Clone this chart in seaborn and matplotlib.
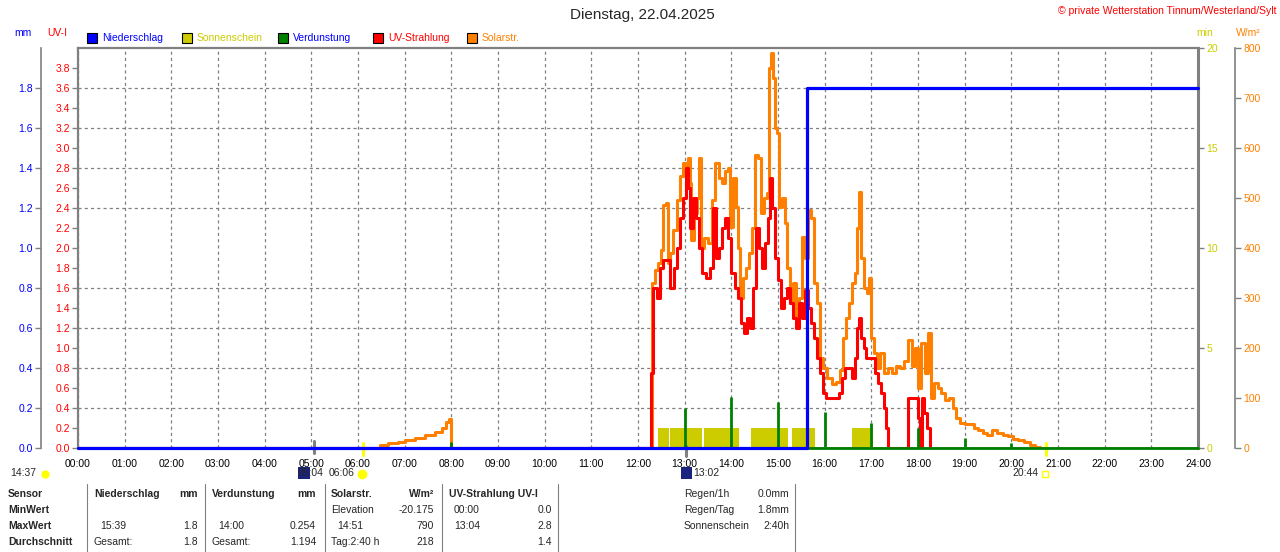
import numpy as np
import matplotlib
matplotlib.use("Agg")
import matplotlib.pyplot as plt
from matplotlib.patches import Rectangle
import seaborn as sns

TITLE = "Dienstag, 22.04.2025"
COPYRIGHT = "© private Wetterstation Tinnum/Westerland/Sylt"

# Solarstrahlung W/m²
solar_time = [
    "00:00", "06:28", "06:39", "06:51", "07:00", "07:13", "07:26", "07:39", "07:48", "07:53",
    "07:57", "08:00", "12:18", "12:22", "12:26", "12:30", "12:32", "12:36", "12:39", "12:41",
    "12:45", "12:50", "12:54", "12:58", "13:02", "13:04", "13:07", "13:08", "13:12", "13:16",
    "13:18", "13:21", "13:25", "13:30", "13:35", "13:39", "13:44", "13:48", "13:52", "13:56",
    "13:58", "14:02", "14:06", "14:09", "14:11", "14:15", "14:19", "14:23", "14:27", "14:30",
    "14:34", "14:38", "14:42", "14:46", "14:48", "14:51", "14:54", "14:56", "14:59", "15:01",
    "15:05", "15:09", "15:12", "15:15", "15:19", "15:23", "15:27", "15:31", "15:35", "15:39",
    "15:42", "15:46", "15:50", "15:54", "15:58", "16:03", "16:09", "16:15", "16:20", "16:24",
    "16:27", "16:31", "16:35", "16:39", "16:42", "16:44", "16:47", "16:51", "16:54", "16:57",
    "17:00", "17:03", "17:07", "17:11", "17:16", "17:21", "17:27", "17:32", "17:37", "17:42",
    "17:47", "17:52", "17:56", "18:00", "18:04", "18:09", "18:13", "18:17", "18:21", "18:26",
    "18:30", "18:35", "18:40", "18:45", "18:49", "18:54", "19:00", "19:07", "19:12", "19:17",
    "19:24", "19:29", "19:35", "19:42", "19:49", "19:56", "20:02", "20:09", "20:16", "20:24",
    "20:30", "20:37",
]
solar_wm2 = [
    0, 6, 10, 12, 16, 20, 26, 32, 40, 52,
    58, 0, 330, 356, 370, 396, 486, 490, 370, 390,
    436, 496, 545, 570, 560, 580, 530, 416, 470, 500,
    580, 400, 420, 410, 496, 570, 540, 530, 555, 560,
    442, 540, 482, 400, 300, 340, 360, 390, 440, 586,
    580, 470, 500, 510, 760, 790, 740, 640, 630, 482,
    500, 450, 360, 290, 330, 260, 300, 422, 380, 476,
    460, 330, 290, 180, 160, 140, 128, 132, 156, 220,
    260, 290, 330, 350, 440, 512, 380, 320, 310, 340,
    220, 190, 160, 190, 150, 160, 150, 165, 160, 175,
    216, 165, 200, 120, 210, 150, 230, 100, 130, 120,
    110, 96, 100, 80, 60, 50, 48, 48, 40, 36,
    30, 26, 36, 30, 26, 24, 18, 16, 12, 6,
    2, 0,
]

# UV-Strahlung UV-I
uv_time = [
    "00:00", "12:17", "12:19", "12:24", "12:28", "12:32", "12:37", "12:41", "12:46", "12:50",
    "12:54", "12:58", "13:02", "13:04", "13:07", "13:11", "13:15", "13:18", "13:22", "13:27",
    "13:33", "13:36", "13:40", "13:44", "13:48", "13:52", "13:56", "14:00", "14:05", "14:09",
    "14:12", "14:16", "14:20", "14:24", "14:28", "14:32", "14:36", "14:39", "14:43", "14:47",
    "14:50", "14:52", "14:56", "15:00", "15:04", "15:08", "15:12", "15:15", "15:19", "15:23",
    "15:27", "15:31", "15:35", "15:39", "15:42", "15:46", "15:50", "15:54", "15:58", "16:02",
    "16:15", "16:18", "16:22", "16:26", "16:35", "16:39", "16:42", "16:44", "16:47", "16:51",
    "16:53", "17:01", "17:05", "17:09", "17:12", "17:16", "17:19", "17:21", "17:47", "18:00",
    "18:03", "18:05", "18:08", "18:12", "18:15",
]
uv_index = [
    0.0, 0.75, 1.6, 1.5, 1.8, 1.88, 1.88, 1.6, 1.8, 2.0,
    2.3, 2.5, 2.8, 2.6, 2.2, 2.5, 2.3, 2.0, 1.75, 1.7,
    1.8, 2.4, 1.9, 2.0, 2.2, 2.3, 2.1, 1.75, 1.6, 1.5,
    1.25, 1.15, 1.3, 1.2, 1.6, 2.2, 2.0, 1.8, 2.05, 2.3,
    2.7, 2.4, 1.9, 1.68, 1.4, 1.5, 1.6, 1.45, 1.3, 1.2,
    1.45, 1.3, 1.58, 1.4, 1.25, 1.1, 0.9, 0.75, 0.55, 0.5,
    0.5, 0.55, 0.7, 0.8, 0.7, 0.9, 1.2, 1.3, 1.1, 1.0,
    0.9, 0.9, 0.75, 0.65, 0.55, 0.4, 0.2, 0.0, 0.5, 0.3,
    0.0, 0.5, 0.35, 0.2, 0.0,
]

# Niederschlag (Tagessumme) mm
rain_time = ["00:00", "15:37", "24:00"]
rain_mm = [0.0, 1.8, 1.8]

# Verdunstung mm
evap_time = ["08:00", "13:00", "14:00", "15:00", "16:00", "17:00", "18:00", "19:00", "20:00"]
evap_mm = [0.03, 0.2, 0.254, 0.23, 0.18, 0.125, 0.1, 0.05, 0.025]

# Sonnenschein min
sun_start = ["12:26", "12:41", "13:25", "14:25", "15:18", "16:35", "18:02"]
sun_end = ["12:40", "13:22", "14:10", "15:13", "15:48", "17:02", "18:04"]
sun_min = [1, 1, 1, 1, 1, 1, 1]

legend_labels = ["Niederschlag", "Sonnenschein", "Verdunstung", "UV-Strahlung", "Solarstr."]

BLUE = "#0000ff"
YELLOW = "#cccc00"
GREEN = "#008000"
RED = "#ff0000"
ORANGE = "#ff8000"
GREY = "#808080"


def hours(times):
    return np.array([int(t[:2]) + int(t[3:]) / 60 for t in times])


W, H = 1280, 552


def fx(px):
    return px / W


def fy(py):
    return 1 - py / H


sns.set_style("white")
plt.rcParams["font.family"] = ["Liberation Sans", "DejaVu Sans"]
plt.rcParams["font.size"] = 7.5

fig = plt.figure(figsize=(12.8, 5.52), dpi=100)
rect = [fx(78), fy(448), (1198 - 78) / W, 400 / H]

# host axis: sunshine minutes + grid
ax = fig.add_axes(rect)
ax.set_xlim(0, 24)
ax.set_ylim(0, 20)
ax.set_axisbelow(True)
ax.set_xticks(range(25))
ax.set_xticklabels(["%02d:00" % h for h in range(25)])
ax.tick_params(axis="x", length=0, pad=8, labelsize=7.5, colors="black")
ax.set_yticks([0, 5, 10, 15, 20])
ax.set_yticks(np.arange(2, 20, 2), minor=True)
grid_kw = dict(color=GREY, linestyle=(0, (2.5, 2.5)), linewidth=0.9)
ax.xaxis.grid(True, **grid_kw)
ax.yaxis.grid(True, which="minor", **grid_kw)
ax.yaxis.grid(False, which="major")
for side, lw in [("top", 1.6), ("left", 1.6), ("right", 2.2), ("bottom", 1.2)]:
    ax.spines[side].set_color(GREY)
    ax.spines[side].set_linewidth(lw)

s0, s1 = hours(sun_start), hours(sun_end)
ax.bar(s0, sun_min, width=s1 - s0, align="edge", color=YELLOW, linewidth=0, zorder=2)

# solar radiation
ax_w = ax.twinx()
ax_w.set_ylim(0, 800)
for side in ["top", "left", "bottom"]:
    ax_w.spines[side].set_visible(False)
ax_w.spines["right"].set_position(("outward", 37 * 0.72))
ax_w.spines["right"].set_color(GREY)
ax_w.spines["right"].set_linewidth(1.2)
ax_w.set_yticks(range(0, 801, 100))
ax_w.tick_params(axis="y", length=4, width=1, color=GREY, labelcolor=ORANGE, pad=2, labelsize=7.5)
sns.lineplot(x=hours(solar_time), y=solar_wm2, ax=ax_w, color=ORANGE, linewidth=2.2,
             drawstyle="steps-post", estimator=None, sort=False)
ax_w.set_ylabel("")

# UV index
ax_uv = ax.twinx()
ax_uv.set_ylim(0, 4)
for side in ax_uv.spines:
    ax_uv.spines[side].set_visible(False)
ax_uv.yaxis.tick_left()
ax_uv.set_yticks(np.round(np.arange(0, 3.81, 0.2), 1))
ax_uv.set_yticklabels(["%.1f" % v for v in np.arange(0, 3.81, 0.2)])
ax_uv.tick_params(axis="y", length=4, width=1, color=GREY, labelcolor=RED, pad=2, labelsize=7.5)
sns.lineplot(x=hours(uv_time), y=uv_index, ax=ax_uv, color=RED, linewidth=2.2,
             drawstyle="steps-post", estimator=None, sort=False)
ax_uv.set_ylabel("")

# precipitation + evaporation
ax_mm = ax.twinx()
ax_mm.set_ylim(0, 2)
for side in ["top", "right", "bottom"]:
    ax_mm.spines[side].set_visible(False)
ax_mm.yaxis.tick_left()
ax_mm.spines["left"].set_visible(True)
ax_mm.spines["left"].set_position(("outward", 37 * 0.72))
ax_mm.spines["left"].set_color(GREY)
ax_mm.spines["left"].set_linewidth(1.2)
ax_mm.set_yticks(np.round(np.arange(0, 1.81, 0.2), 1))
ax_mm.set_yticklabels(["%.1f" % v for v in np.arange(0, 1.81, 0.2)])
ax_mm.tick_params(axis="y", length=4, width=1, color=GREY, labelcolor=BLUE, pad=2, labelsize=7.5)
ax_mm.axhline(0, color=GREEN, linewidth=2, clip_on=False)
ax_mm.vlines(hours(evap_time), 0, evap_mm, color=GREEN, linewidth=2)
sns.lineplot(x=hours(rain_time), y=rain_mm, ax=ax_mm, color=BLUE, linewidth=2.3,
             drawstyle="steps-post", estimator=None, sort=False, clip_on=False)
ax_mm.set_ylabel("")

for a in (ax_w, ax_uv, ax_mm):
    a.tick_params(axis="x", bottom=False, labelbottom=False)

# twinx() moves the host ticks to the left, put the minute scale back on the right
ax.yaxis.tick_right()
ax.tick_params(axis="y", which="major", length=4, width=1, color=GREY, labelcolor=YELLOW,
               pad=2, labelsize=7.5)
ax.tick_params(axis="y", which="minor", length=0, left=False, right=False)

# header texts
fig.text(fx(642), fy(15), TITLE, ha="center", va="center", fontsize=11)
fig.text(fx(1277), fy(11), COPYRIGHT, ha="right", va="center", color=RED, fontsize=7.5)
fig.text(fx(23), fy(33), "mm", ha="center", va="center", color=BLUE)
fig.text(fx(57), fy(33), "UV-I", ha="center", va="center", color=RED)
fig.text(fx(1205), fy(33), "min", ha="center", va="center", color=YELLOW)
fig.text(fx(1248), fy(33), "W/m²", ha="center", va="center", color=ORANGE)

leg_colors = [BLUE, YELLOW, GREEN, RED, ORANGE]
leg_text_colors = [BLUE, YELLOW, BLUE, RED, ORANGE]
leg_x = [87, 182, 278, 373, 467]
for lx, lab, c, tc in zip(leg_x, legend_labels, leg_colors, leg_text_colors):
    fig.patches.append(Rectangle((fx(lx), fy(43)), 10 / W, 10 / H, transform=fig.transFigure,
                                 facecolor=c, edgecolor="black", linewidth=0.8))
    fig.text(fx(lx + 15), fy(38), lab, ha="left", va="center", color=tc)

# sun / moon marks below the axis
ax.plot([hours(["05:04"])[0]] * 2, [-0.25, 0.35], color=GREY, lw=2.2, clip_on=False)
ax.plot([hours(["06:06"])[0]] * 2, [-0.35, 0.25], color="#ffff00", lw=2.2, clip_on=False)
ax.plot([hours(["13:02"])[0]] * 2, [-0.4, 0.1], color=GREY, lw=2.2, clip_on=False)
ax.plot([hours(["20:44"])[0]] * 2, [-0.35, 0.25], color="#ffff00", lw=2.2, clip_on=False)

fig.text(fx(10), fy(473), "14:37", ha="left", va="center")
fig.text(fx(298), fy(473), "05:04", ha="left", va="center")
fig.patches.append(Rectangle((fx(298), fy(479)), 12 / W, 12 / H, transform=fig.transFigure,
                             facecolor="#1a237e", edgecolor="none"))
fig.text(fx(329), fy(473), "06:06", ha="left", va="center")
fig.text(fx(693), fy(473), "13:02", ha="left", va="center")
fig.patches.append(Rectangle((fx(681), fy(479)), 11 / W, 12 / H, transform=fig.transFigure,
                             facecolor="#1a237e", edgecolor="none"))
fig.text(fx(1038), fy(473), "20:44", ha="right", va="center")
fig.lines.append(plt.Line2D([fx(45)], [fy(474)], marker="o", markersize=5, color="#ffff00",
                            transform=fig.transFigure))
fig.lines.append(plt.Line2D([fx(362)], [fy(474)], marker="o", markersize=6, color="#ffff00",
                            transform=fig.transFigure))
fig.lines.append(plt.Line2D([fx(1045)], [fy(474)], marker="s", markersize=5, markerfacecolor="none",
                            markeredgecolor="#ffff00", transform=fig.transFigure))

# stats table
for lx in [87, 205, 325, 442, 558, 795]:
    fig.lines.append(plt.Line2D([fx(lx), fx(lx)], [fy(484), fy(552)], color=GREY, lw=0.8,
                                transform=fig.transFigure))

rows_y = [494, 510, 526, 542]
bold_left = [(8, 0, "Sensor"), (8, 1, "MinWert"), (8, 2, "MaxWert"), (8, 3, "Durchschnitt"),
             (94, 0, "Niederschlag"), (212, 0, "Verdunstung"), (331, 0, "Solarstr."),
             (449, 0, "UV-Strahlung UV-I")]
bold_right = [(198, 0, "mm"), (316, 0, "mm"), (434, 0, "W/m²")]
plain_left = [(100, 2, "15:39"), (94, 3, "Gesamt:"), (218, 2, "14:00"), (212, 3, "Gesamt:"),
              (331, 1, "Elevation"), (337, 2, "14:51"), (331, 3, "Tag:2:40 h"),
              (454, 1, "00:00"), (454, 2, "13:04"),
              (684, 0, "Regen/1h"), (684, 1, "Regen/Tag"), (684, 2, "Sonnenschein")]
plain_right = [(198, 2, "1.8"), (198, 3, "1.8"), (316, 2, "0.254"), (316, 3, "1.194"),
               (434, 1, "-20.175"), (434, 2, "790"), (434, 3, "218"),
               (552, 1, "0.0"), (552, 2, "2.8"), (552, 3, "1.4"),
               (789, 0, "0.0mm"), (789, 1, "1.8mm"), (789, 2, "2:40h")]
for px, r, s in bold_left:
    fig.text(fx(px), fy(rows_y[r]), s, ha="left", va="center", fontweight="bold")
for px, r, s in bold_right:
    fig.text(fx(px), fy(rows_y[r]), s, ha="right", va="center", fontweight="bold")
for px, r, s in plain_left:
    fig.text(fx(px), fy(rows_y[r]), s, ha="left", va="center")
for px, r, s in plain_right:
    fig.text(fx(px), fy(rows_y[r]), s, ha="right", va="center")

fig.savefig("out.png", dpi=100)
